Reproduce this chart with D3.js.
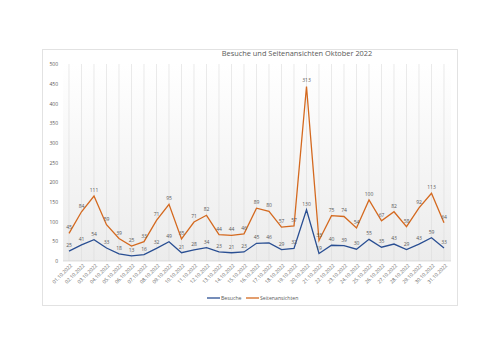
<!DOCTYPE html>
<html>
<head>
<meta charset="utf-8">
<script src="https://cdn.jsdelivr.net/npm/d3@7"></script>
<style>
  body { margin: 0; background: #fff; }
  text { font-family: "Open Sans", sans-serif; fill: #595959; }
</style>
</head>
<body>
<script>
// data
const days = ["01.10.2022","02.10.2022","03.10.2022","04.10.2022","05.10.2022","06.10.2022","07.10.2022","08.10.2022","09.10.2022","10.10.2022","11.10.2022","12.10.2022","13.10.2022","14.10.2022","15.10.2022","16.10.2022","17.10.2022","18.10.2022","19.10.2022","20.10.2022","21.10.2022","22.10.2022","23.10.2022","24.10.2022","25.10.2022","26.10.2022","27.10.2022","28.10.2022","29.10.2022","30.10.2022","31.10.2022"];
const besuche = [25,41,54,33,18,13,16,32,49,21,28,34,23,21,23,45,46,29,32,130,19,40,39,30,55,35,43,29,43,59,33];
const seitenansichten = [45,84,111,59,39,25,33,71,95,35,71,82,44,44,46,89,80,57,57,313,33,75,74,54,100,67,82,58,92,113,64];
const yTicks = [0,50,100,150,200,250,300,350,400,450,500];

const W = 500, H = 353;
const svg = d3.select("body").append("svg").attr("width", W).attr("height", H);

// gradient for plot background
const defs = svg.append("defs");
const grad = defs.append("linearGradient").attr("id", "bg").attr("x1", 0).attr("y1", 0).attr("x2", 0).attr("y2", 1);
grad.append("stop").attr("offset", "0%").attr("stop-color", "#ffffff");
grad.append("stop").attr("offset", "100%").attr("stop-color", "#ececec");

// chart frame
svg.append("rect").attr("x", 42.5).attr("y", 49.5).attr("width", 415).attr("height", 256)
  .attr("fill", "#fff").attr("stroke", "#e2e2e2");

svg.append("text").attr("x", 297).attr("y", 56).attr("text-anchor", "middle")
  .attr("font-size", 7.4).text("Besuche und Seitenansichten Oktober 2022");

const x = d3.scalePoint().domain(days).range([69, 444]);
const y = d3.scaleLinear().domain([0, 500]).range([261, 64]);

svg.append("rect").attr("x", 63).attr("y", 64).attr("width", 388).attr("height", 197).attr("fill", "url(#bg)");

// vertical grid lines
svg.selectAll(".vgrid").data(days).enter().append("line")
  .attr("x1", d => x(d)).attr("x2", d => x(d))
  .attr("y1", y(500)).attr("y2", y(0))
  .attr("stroke", "#dcdcdc").attr("stroke-width", 0.6);

svg.append("line").attr("x1", 63).attr("x2", 451).attr("y1", y(0)).attr("y2", y(0))
  .attr("stroke", "#d0d0d0").attr("stroke-width", 0.7);

// y axis
const yAxis = svg.append("g").attr("transform", "translate(63,0)")
  .call(d3.axisLeft(y).tickValues(yTicks).tickSize(0).tickPadding(5));
yAxis.select(".domain").remove();
yAxis.selectAll("text").attr("font-size", 5).attr("fill", "#6b6b6b").attr("font-family", "Open Sans");

// x axis labels
const xAxis = svg.append("g").attr("transform", "translate(0," + y(0) + ")")
  .call(d3.axisBottom(x).tickSize(0).tickPadding(0));
xAxis.select(".domain").remove();
xAxis.selectAll("text").attr("font-size", 5).attr("fill", "#6b6b6b").attr("font-family", "Open Sans")
  .attr("text-anchor", "end").attr("dy", 0).attr("y", 0)
  .attr("transform", "translate(3,5) rotate(-45)");

// stacked
const stacked = besuche.map((b, i) => b + seitenansichten[i]);

const lineB = d3.line().x((d, i) => x(days[i])).y(d => y(d));
svg.append("path").datum(besuche).attr("d", lineB).attr("fill", "none")
  .attr("stroke", "#2a4f93").attr("stroke-width", 1.3);
svg.append("path").datum(stacked).attr("d", lineB).attr("fill", "none")
  .attr("stroke", "#d4691f").attr("stroke-width", 1.3);

// labels
svg.selectAll(".lb").data(besuche).enter().append("text")
  .attr("x", (d, i) => x(days[i])).attr("y", d => y(d) - 4)
  .attr("text-anchor", "middle").attr("font-size", 5).attr("fill", "#6b6b6b").text(d => d);
svg.selectAll(".ls").data(seitenansichten).enter().append("text")
  .attr("x", (d, i) => x(days[i])).attr("y", (d, i) => y(stacked[i]) - 4)
  .attr("text-anchor", "middle").attr("font-size", 5).attr("fill", "#6b6b6b").text(d => d);

// legend
const leg = svg.append("g").attr("transform", "translate(0,298)");
leg.append("line").attr("x1", 207).attr("x2", 220).attr("y1", 0).attr("y2", 0).attr("stroke", "#2a4f93").attr("stroke-width", 1.3);
leg.append("text").attr("x", 221).attr("y", 2).attr("font-size", 5.2).attr("fill", "#6b6b6b").text("Besuche");
leg.append("line").attr("x1", 246).attr("x2", 259).attr("y1", 0).attr("y2", 0).attr("stroke", "#d4691f").attr("stroke-width", 1.3);
leg.append("text").attr("x", 260).attr("y", 2).attr("font-size", 5.2).attr("fill", "#6b6b6b").text("Seitenansichten");
</script>
</body>
</html>
